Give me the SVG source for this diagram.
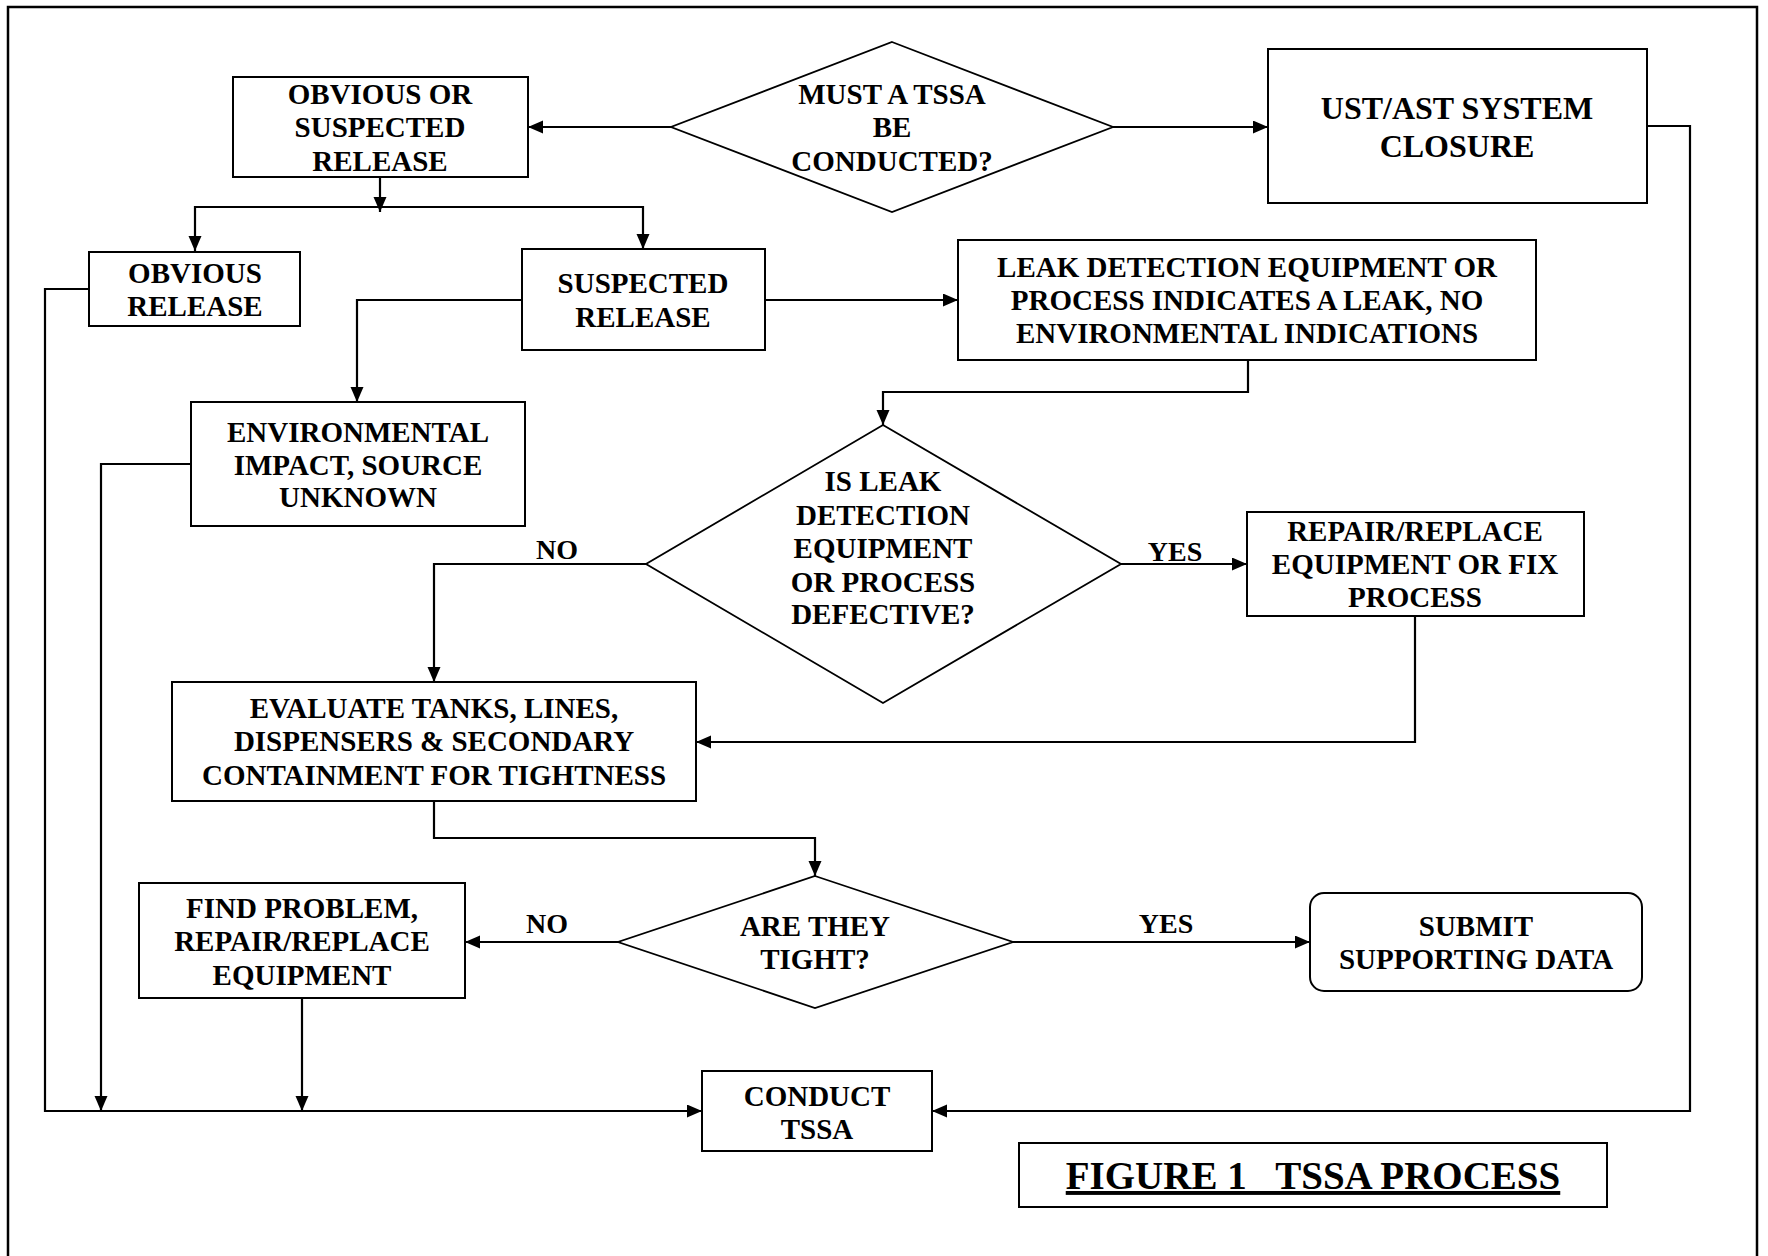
<svg xmlns="http://www.w3.org/2000/svg" width="1768" height="1256" viewBox="0 0 1768 1256">
<defs>
<marker id="arr" markerUnits="userSpaceOnUse" markerWidth="16" markerHeight="14" refX="15" refY="6.5" orient="auto">
<path d="M0,0 L15,6.5 L0,13 z" fill="#000"/>
</marker>
<style>
.box{fill:#fff;stroke:#000;stroke-width:2}
.dia{fill:#fff;stroke:#000;stroke-width:1.8}
.t{font-family:"Liberation Serif","Times New Roman",serif;font-weight:bold;font-size:29px;text-anchor:middle;fill:#000}
.lbl{font-family:"Liberation Serif","Times New Roman",serif;font-weight:bold;font-size:28px;text-anchor:middle;fill:#000}
.c{fill:none;stroke:#000;stroke-width:2.2}
.a{marker-end:url(#arr)}
</style>
</defs>
<rect x="0" y="0" width="1768" height="1256" fill="#fff"/>
<rect x="8" y="7" width="1749" height="1280" fill="none" stroke="#000" stroke-width="2.5"/>

<g id="connectors">
<path class="c a" d="M671,127 L528,127"/>
<path class="c a" d="M1113,127 L1268,127"/>
<path class="c a" d="M380,177 L380,212"/>
<path class="c a" d="M380,207 L195,207 L195,251"/>
<path class="c a" d="M380,207 L643,207 L643,249"/>
<path class="c a" d="M765,300 L958,300"/>
<path class="c a" d="M522,300 L357,300 L357,402"/>
<path class="c a" d="M89,289 L45,289 L45,1111 L702,1111"/>
<path class="c a" d="M191,464 L101,464 L101,1111"/>
<path class="c a" d="M1248,360 L1248,392 L883,392 L883,425"/>
<path class="c a" d="M646,564 L434,564 L434,682"/>
<path class="c a" d="M1121,564 L1247,564"/>
<path class="c a" d="M1415,616 L1415,742 L696,742"/>
<path class="c a" d="M434,801 L434,838 L815,838 L815,876"/>
<path class="c a" d="M618,942 L465,942"/>
<path class="c a" d="M1013,942 L1310,942"/>
<path class="c a" d="M302,998 L302,1111"/>
<path class="c a" d="M1647,126 L1690,126 L1690,1111 L932,1111"/>
<text class="lbl" x="557" y="559">NO</text>
<text class="lbl" x="1175" y="561">YES</text>
<text class="lbl" x="547" y="933">NO</text>
<text class="lbl" x="1166" y="933">YES</text>
</g>

<g id="must_tssa">
<polygon class="dia" points="892,42 1113,127 892,212 671,127"/>
<text class="t" x="892" y="104">MUST A TSSA</text>
<text class="t" x="892" y="137">BE</text>
<text class="t" x="892" y="171">CONDUCTED?</text>
</g>

<g id="obvious_or_suspected">
<rect class="box" x="233" y="77" width="295" height="100"/>
<text class="t" x="380" y="104">OBVIOUS OR</text>
<text class="t" x="380" y="137">SUSPECTED</text>
<text class="t" x="380" y="171">RELEASE</text>
</g>

<g id="ust_closure">
<rect class="box" x="1268" y="49" width="379" height="154"/>
<text class="t" x="1457" y="119" style="font-size:32px">UST/AST SYSTEM</text>
<text class="t" x="1457" y="157" style="font-size:32px">CLOSURE</text>
</g>

<g id="obvious_release">
<rect class="box" x="89" y="252" width="211" height="74"/>
<text class="t" x="195" y="283">OBVIOUS</text>
<text class="t" x="195" y="316">RELEASE</text>
</g>

<g id="suspected_release">
<rect class="box" x="522" y="249" width="243" height="101"/>
<text class="t" x="643" y="293">SUSPECTED</text>
<text class="t" x="643" y="327">RELEASE</text>
</g>

<g id="leak_detection">
<rect class="box" x="958" y="240" width="578" height="120"/>
<text class="t" x="1247" y="277">LEAK DETECTION EQUIPMENT OR</text>
<text class="t" x="1247" y="310">PROCESS INDICATES A LEAK, NO</text>
<text class="t" x="1247" y="343">ENVIRONMENTAL INDICATIONS</text>
</g>

<g id="environmental">
<rect class="box" x="191" y="402" width="334" height="124"/>
<text class="t" x="358" y="442">ENVIRONMENTAL</text>
<text class="t" x="358" y="475">IMPACT, SOURCE</text>
<text class="t" x="358" y="507">UNKNOWN</text>
</g>

<g id="is_leak_defective">
<polygon class="dia" points="883,425 1121,564 883,703 646,564"/>
<text class="t" x="883" y="491">IS LEAK</text>
<text class="t" x="883" y="525">DETECTION</text>
<text class="t" x="883" y="558">EQUIPMENT</text>
<text class="t" x="883" y="592">OR PROCESS</text>
<text class="t" x="883" y="624">DEFECTIVE?</text>
</g>

<g id="repair_replace">
<rect class="box" x="1247" y="512" width="337" height="104"/>
<text class="t" x="1415" y="541">REPAIR/REPLACE</text>
<text class="t" x="1415" y="574">EQUIPMENT OR FIX</text>
<text class="t" x="1415" y="607">PROCESS</text>
</g>

<g id="evaluate">
<rect class="box" x="172" y="682" width="524" height="119"/>
<text class="t" x="434" y="718">EVALUATE TANKS, LINES,</text>
<text class="t" x="434" y="751">DISPENSERS &amp; SECONDARY</text>
<text class="t" x="434" y="785">CONTAINMENT FOR TIGHTNESS</text>
</g>

<g id="are_they_tight">
<polygon class="dia" points="815,876 1013,942 815,1008 618,942"/>
<text class="t" x="815" y="936">ARE THEY</text>
<text class="t" x="815" y="969">TIGHT?</text>
</g>

<g id="find_problem">
<rect class="box" x="139" y="883" width="326" height="115"/>
<text class="t" x="302" y="918">FIND PROBLEM,</text>
<text class="t" x="302" y="951">REPAIR/REPLACE</text>
<text class="t" x="302" y="985">EQUIPMENT</text>
</g>

<g id="submit">
<rect class="box" x="1310" y="893" width="332" height="98" rx="14" ry="14"/>
<text class="t" x="1476" y="936">SUBMIT</text>
<text class="t" x="1476" y="969">SUPPORTING DATA</text>
</g>

<g id="conduct_tssa">
<rect class="box" x="702" y="1071" width="230" height="80"/>
<text class="t" x="817" y="1106">CONDUCT</text>
<text class="t" x="817" y="1139">TSSA</text>
</g>

<g id="figure_title">
<rect class="box" x="1019" y="1143" width="588" height="64"/>
<text class="t" x="1313" y="1189" style="font-size:39px;white-space:pre;text-decoration:underline" xml:space="preserve">FIGURE 1   TSSA PROCESS</text>
</g>
</svg>
